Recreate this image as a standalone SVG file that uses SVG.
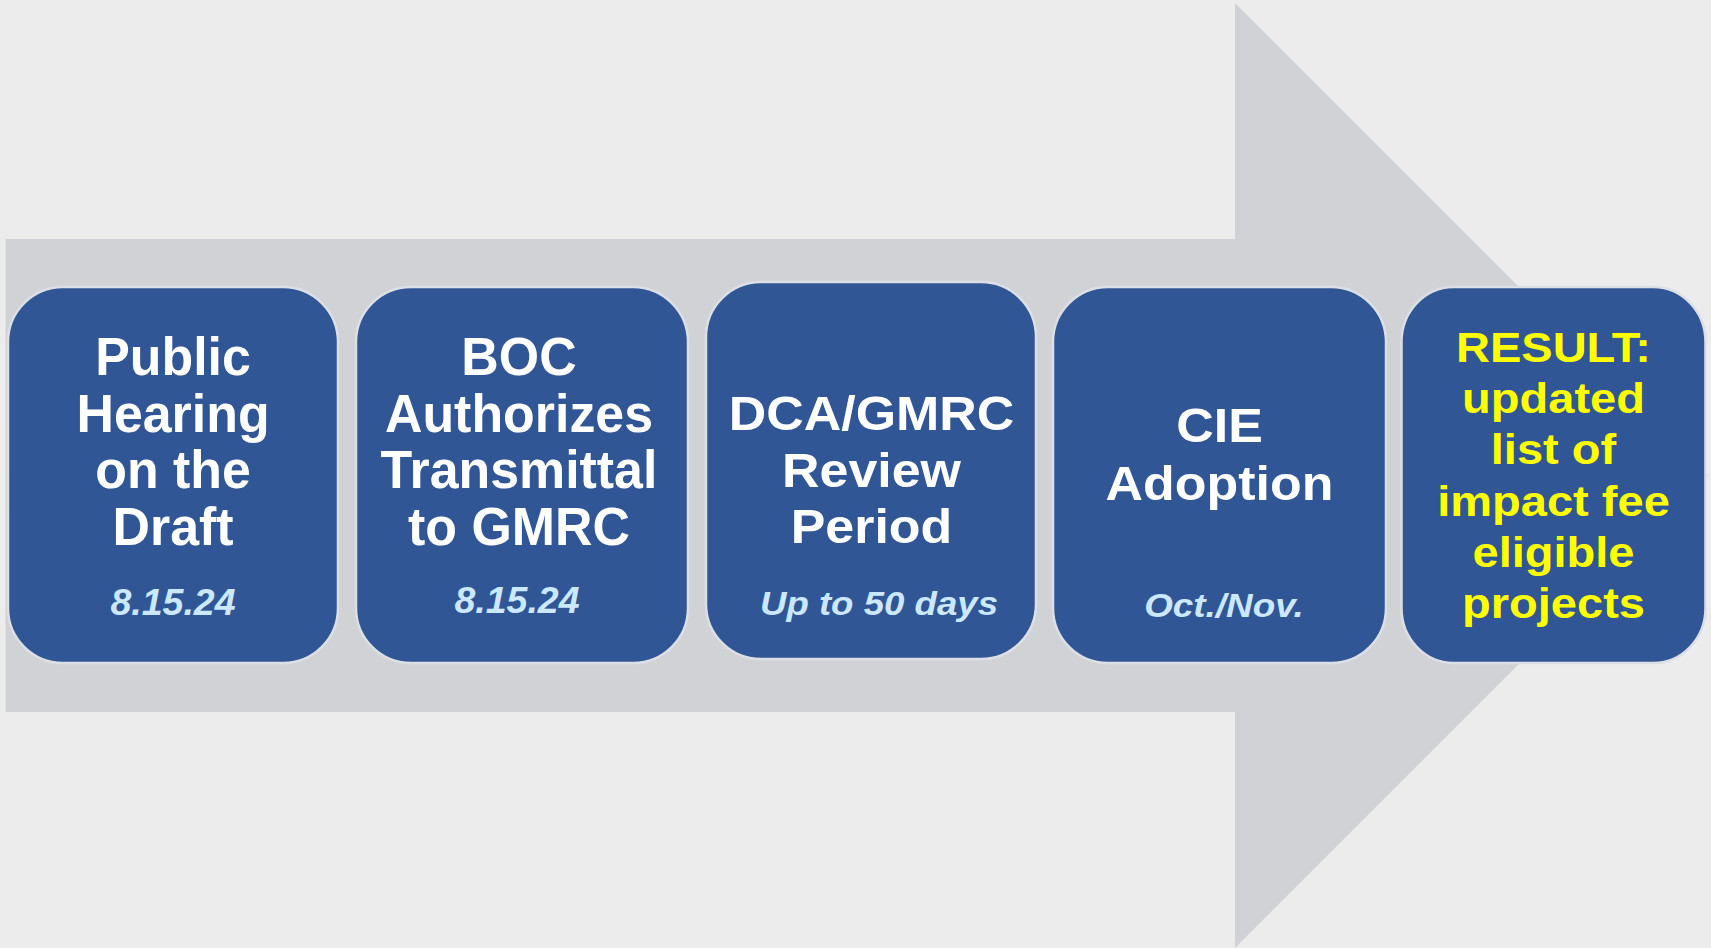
<svg xmlns="http://www.w3.org/2000/svg" width="1711" height="948" viewBox="0 0 1711 948">
  <style>
    .step { fill: #305696; stroke: #DCDFE5; stroke-width: 2.5; }
    .title { font-family: "Liberation Sans", Arial, sans-serif; font-weight: bold; fill: #FFFFFF; text-anchor: middle; }
    .date { font-family: "Liberation Sans", Arial, sans-serif; font-weight: bold; font-style: italic; fill: #CCE8FF; text-anchor: middle; }
    .result { font-family: "Liberation Sans", Arial, sans-serif; font-weight: bold; fill: #FFFF00; text-anchor: middle; }
  </style>

  <!-- page background -->
  <rect x="0" y="0" width="1711" height="948" fill="#ECECEC"/>

  <!-- big process arrow behind the steps -->
  <g id="connectors">
    <polygon points="5.5,239 1235,239 1235,3 1707.5,475.5 1235,948 1235,712 5.5,712" fill="#D0D2D6"/>
  </g>

  <!-- step 1 -->
  <g id="step-public-hearing">
    <rect class="step" x="8" y="287" width="330" height="376" rx="55" ry="55"/>
    <g transform="translate(173 0) scale(0.97 1)">
      <text class="title" x="0" y="375" font-size="53.5">Public</text>
      <text class="title" x="0" y="431.7" font-size="53.5">Hearing</text>
      <text class="title" x="0" y="488.3" font-size="53.5">on the</text>
      <text class="title" x="0" y="545" font-size="53.5">Draft</text>
    </g>
    <text class="date" x="173" y="615" font-size="37.5">8.15.24</text>
  </g>

  <!-- step 2 -->
  <g id="step-boc-authorizes">
    <rect class="step" x="356" y="287" width="332" height="376" rx="55" ry="55"/>
    <g transform="translate(519 0) scale(0.97 1)">
      <text class="title" x="0" y="375" font-size="53.5">BOC</text>
      <text class="title" x="0" y="431.7" font-size="53.5">Authorizes</text>
      <text class="title" x="0" y="488.3" font-size="53.5">Transmittal</text>
      <text class="title" x="0" y="545" font-size="53.5">to GMRC</text>
    </g>
    <text class="date" x="517" y="613" font-size="37.5">8.15.24</text>
  </g>

  <!-- step 3 -->
  <g id="step-review-period">
    <rect class="step" x="706" y="282" width="330" height="377" rx="55" ry="55"/>
    <g transform="translate(871.5 0) scale(1.06 1)">
      <text class="title" x="0" y="430" font-size="49">DCA/GMRC</text>
      <text class="title" x="0" y="486.7" font-size="49">Review</text>
      <text class="title" x="0" y="543.3" font-size="49">Period</text>
    </g>
    <g transform="translate(879 0) scale(1.11 1)">
      <text class="date" x="0" y="615" font-size="33">Up to 50 days</text>
    </g>
  </g>

  <!-- step 4 -->
  <g id="step-cie-adoption">
    <rect class="step" x="1053" y="287" width="333" height="376" rx="55" ry="55"/>
    <g transform="translate(1219.5 0) scale(1.06 1)">
      <text class="title" x="0" y="441.7" font-size="49">CIE</text>
      <text class="title" x="0" y="500" font-size="49">Adoption</text>
    </g>
    <g transform="translate(1224 0) scale(1.1 1)">
      <text class="date" x="0" y="617" font-size="33.5">Oct./Nov.</text>
    </g>
  </g>

  <!-- result -->
  <g id="step-result">
    <rect class="step" x="1401.5" y="287" width="304" height="376" rx="52" ry="55"/>
    <g transform="translate(1553.5 0) scale(1.12 1)">
      <text class="result" x="0" y="361.7" font-size="42">RESULT:</text>
      <text class="result" x="0" y="413" font-size="42">updated</text>
      <text class="result" x="0" y="464.3" font-size="42">list of</text>
      <text class="result" x="0" y="515.6" font-size="42">impact fee</text>
      <text class="result" x="0" y="566.9" font-size="42">eligible</text>
      <text class="result" x="0" y="618.2" font-size="42">projects</text>
    </g>
  </g>
</svg>
